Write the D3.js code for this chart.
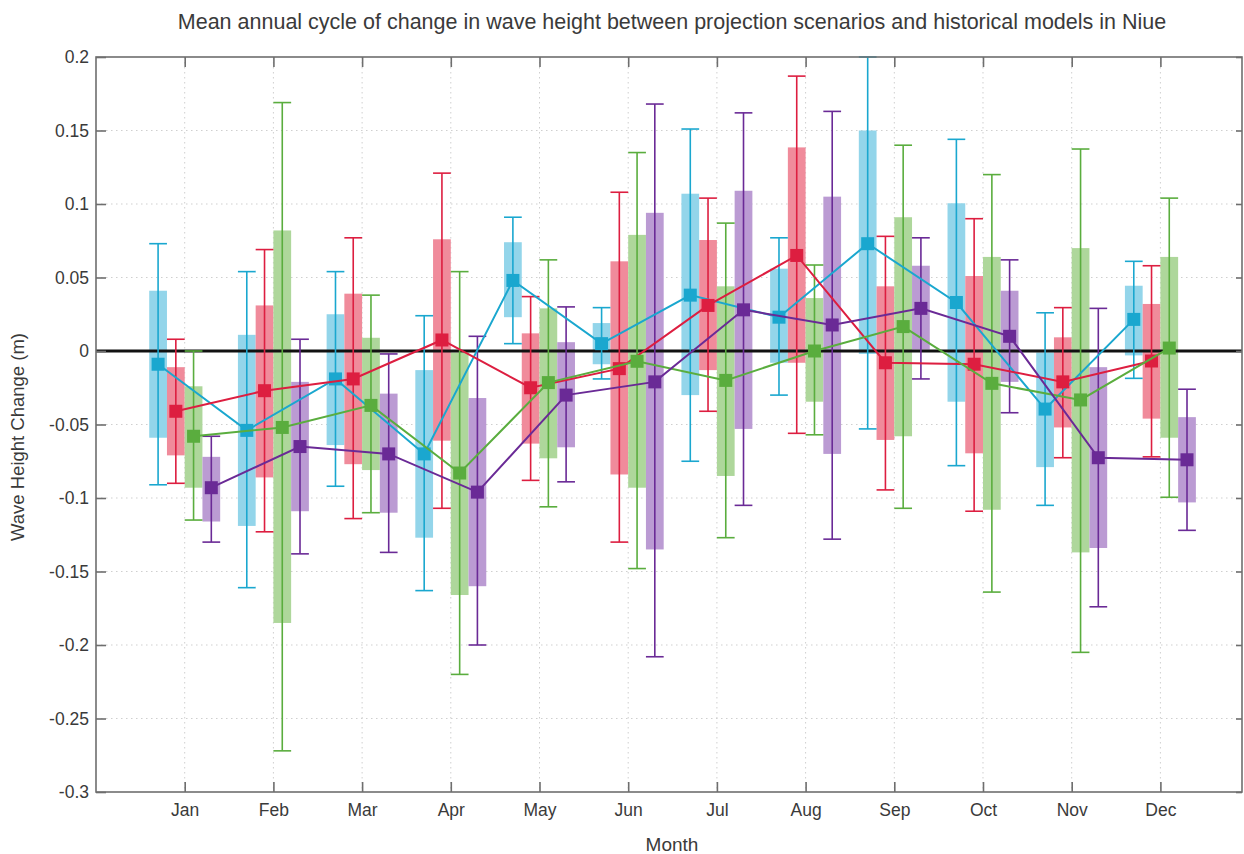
<!DOCTYPE html>
<html lang="en">
<head>
  <meta charset="UTF-8">
  <script src="https://d3js.org/d3.v7.min.js"></script>
  <title>Mean annual cycle of change in wave height - Niue</title>
  <style>
    body { margin: 0; background: #fff; font-family: 'Liberation Sans', Arial, sans-serif; }
    svg text { fill: #3a3a3a; }
  </style>
</head>
<body>
<svg id="chart" width="1244" height="854"></svg>
<script>
  // months on the x axis
  const months = ["Jan", "Feb", "Mar", "Apr", "May", "Jun", "Jul", "Aug", "Sep", "Oct", "Nov", "Dec"];
  const yTicks = [-0.3, -0.25, -0.2, -0.15, -0.1, -0.05, 0, 0.05, 0.1, 0.15, 0.2];

  // cyan scenario
  const cyanMean  = [-0.009, -0.054, -0.019, -0.070, 0.048, 0.005, 0.038, 0.023, 0.073, 0.033, -0.0395, 0.0215];
  const cyanBoxHi = [0.041, 0.011, 0.025, -0.013, 0.074, 0.019, 0.107, 0.056, 0.150, 0.1005, -0.001, 0.0444];
  const cyanBoxLo = [-0.059, -0.119, -0.064, -0.127, 0.023, -0.009, -0.030, -0.008, -0.002, -0.0345, -0.079, -0.003];
  const cyanHi    = [0.073, 0.054, 0.054, 0.024, 0.091, 0.0295, 0.151, 0.077, 0.200, 0.144, 0.026, 0.061];
  const cyanLo    = [-0.091, -0.161, -0.092, -0.163, 0.005, -0.019, -0.075, -0.030, -0.053, -0.078, -0.105, -0.0186];

  // red scenario
  const redMean  = [-0.041, -0.027, -0.019, 0.0075, -0.025, -0.012, 0.031, 0.065, -0.008, -0.009, -0.021, -0.0068];
  const redBoxHi = [-0.011, 0.031, 0.039, 0.076, 0.012, 0.061, 0.0755, 0.1385, 0.044, 0.051, 0.0093, 0.032];
  const redBoxLo = [-0.071, -0.086, -0.077, -0.061, -0.063, -0.084, -0.013, -0.008, -0.0605, -0.0696, -0.052, -0.046];
  const redHi    = [0.008, 0.069, 0.077, 0.121, 0.037, 0.108, 0.104, 0.187, 0.078, 0.090, 0.0295, 0.058];
  const redLo    = [-0.090, -0.123, -0.114, -0.107, -0.088, -0.130, -0.041, -0.056, -0.0945, -0.109, -0.0726, -0.072];

  // green scenario
  const greenMean  = [-0.058, -0.052, -0.037, -0.083, -0.0215, -0.007, -0.020, 0.000, 0.0166, -0.022, -0.0333, 0.002];
  const greenBoxHi = [-0.024, 0.082, 0.009, -0.001, 0.029, 0.079, 0.044, 0.036, 0.091, 0.064, 0.070, 0.064];
  const greenBoxLo = [-0.093, -0.185, -0.081, -0.166, -0.073, -0.093, -0.085, -0.0345, -0.058, -0.108, -0.137, -0.059];
  const greenHi    = [0.000, 0.169, 0.038, 0.054, 0.062, 0.135, 0.087, 0.0585, 0.140, 0.120, 0.1374, 0.104];
  const greenLo    = [-0.115, -0.272, -0.110, -0.220, -0.106, -0.148, -0.127, -0.057, -0.107, -0.164, -0.205, -0.0995];

  // purple scenario
  const purpleMean  = [-0.093, -0.065, -0.070, -0.096, -0.030, -0.021, 0.028, 0.0177, 0.029, 0.010, -0.0726, -0.074];
  const purpleBoxHi = [-0.072, -0.021, -0.029, -0.032, 0.006, 0.094, 0.109, 0.105, 0.058, 0.041, -0.011, -0.045];
  const purpleBoxLo = [-0.116, -0.109, -0.110, -0.160, -0.0655, -0.135, -0.053, -0.070, 0.001, -0.021, -0.134, -0.103];
  const purpleHi    = [-0.058, 0.008, -0.002, 0.010, 0.030, 0.168, 0.162, 0.163, 0.077, 0.062, 0.029, -0.026];
  const purpleLo    = [-0.130, -0.138, -0.137, -0.200, -0.089, -0.208, -0.105, -0.128, -0.019, -0.042, -0.174, -0.122];

  const series = [
    { mean: cyanMean, boxHi: cyanBoxHi, boxLo: cyanBoxLo, hi: cyanHi, lo: cyanLo, line: "#1aa7cf", box: "#93d5ea", offset: -0.3 },
    { mean: redMean, boxHi: redBoxHi, boxLo: redBoxLo, hi: redHi, lo: redLo, line: "#dd1e40", box: "#f08b9b", offset: -0.1 },
    { mean: greenMean, boxHi: greenBoxHi, boxLo: greenBoxLo, hi: greenHi, lo: greenLo, line: "#5aad3e", box: "#aed79b", offset: 0.1 },
    { mean: purpleMean, boxHi: purpleBoxHi, boxLo: purpleBoxLo, hi: purpleHi, lo: purpleLo, line: "#6a2a96", box: "#bb9bd3", offset: 0.3 }
  ];

  const svg = d3.select("#chart");
  const mLeft = 96, mRight = 1242, mTop = 57, mBottom = 792;

  const x = d3.scaleLinear().domain([0, 12.92]).range([mLeft, mRight]);
  const y = d3.scaleLinear().domain([-0.3, 0.2]).range([mBottom, mTop]);
  const boxW = x(0.2) - x(0);

  // grid
  const grid = svg.append("g");
  grid.selectAll("line.gx").data(months).enter().append("line")
    .attr("x1", (d, i) => x(i + 1)).attr("x2", (d, i) => x(i + 1))
    .attr("y1", mTop).attr("y2", mBottom)
    .attr("stroke", "#cfcfcf").attr("stroke-width", 1).attr("stroke-dasharray", "1.5,3.5");
  grid.selectAll("line.gy").data(yTicks.slice(1, -1)).enter().append("line")
    .attr("x1", mLeft).attr("x2", mRight)
    .attr("y1", d => y(d)).attr("y2", d => y(d))
    .attr("stroke", "#cfcfcf").attr("stroke-width", 1).attr("stroke-dasharray", "1.5,3.5");

  // boxes
  series.forEach(s => {
    svg.append("g").selectAll("rect").data(months).enter().append("rect")
      .attr("x", (d, i) => x(i + 1 + s.offset) - boxW / 2)
      .attr("width", boxW)
      .attr("y", (d, i) => y(s.boxHi[i]))
      .attr("height", (d, i) => y(s.boxLo[i]) - y(s.boxHi[i]))
      .attr("fill", s.box);
  });

  // zero line
  svg.append("line")
    .attr("x1", mLeft).attr("x2", mRight).attr("y1", y(0)).attr("y2", y(0))
    .attr("stroke", "#111").attr("stroke-width", 3);

  // whiskers
  series.forEach(s => {
    const g = svg.append("g").attr("stroke", s.line).attr("stroke-width", 1.6);
    months.forEach((m, i) => {
      const cx = x(i + 1 + s.offset);
      g.append("line").attr("x1", cx).attr("x2", cx).attr("y1", y(s.hi[i])).attr("y2", y(s.lo[i]));
      g.append("line").attr("x1", cx - boxW / 2).attr("x2", cx + boxW / 2).attr("y1", y(s.hi[i])).attr("y2", y(s.hi[i]));
      g.append("line").attr("x1", cx - boxW / 2).attr("x2", cx + boxW / 2).attr("y1", y(s.lo[i])).attr("y2", y(s.lo[i]));
    });
  });

  // mean lines + markers
  series.forEach(s => {
    const line = d3.line().x((d, i) => x(i + 1 + s.offset)).y(d => y(d));
    svg.append("path").datum(s.mean).attr("d", line)
      .attr("fill", "none").attr("stroke", s.line).attr("stroke-width", 2);
    svg.append("g").selectAll("rect").data(s.mean).enter().append("rect")
      .attr("x", (d, i) => x(i + 1 + s.offset) - 6.5)
      .attr("y", d => y(d) - 6.5)
      .attr("width", 13).attr("height", 13)
      .attr("fill", s.line);
  });

  // axes frame
  const axisColor = "#6e6e6e";
  const frame = svg.append("g").attr("stroke", axisColor).attr("stroke-width", 1.6).attr("fill", "none");
  frame.append("rect").attr("x", mLeft).attr("y", mTop).attr("width", mRight - mLeft).attr("height", mBottom - mTop);

  const xAxis = svg.append("g").attr("transform", `translate(0,${mBottom})`)
    .call(d3.axisBottom(x).tickValues(d3.range(1, 13)).tickFormat(d => months[d - 1]).tickSizeInner(-10).tickSizeOuter(0).tickPadding(12));
  const xAxisTop = svg.append("g").attr("transform", `translate(0,${mTop})`)
    .call(d3.axisTop(x).tickValues(d3.range(1, 13)).tickFormat("").tickSizeInner(-10).tickSizeOuter(0));
  const yAxis = svg.append("g").attr("transform", `translate(${mLeft},0)`)
    .call(d3.axisLeft(y).tickValues(yTicks).tickFormat(d => d === 0 ? "0" : String(+d.toFixed(2))).tickSizeInner(-10).tickSizeOuter(0).tickPadding(7));
  const yAxisRight = svg.append("g").attr("transform", `translate(${mRight},0)`)
    .call(d3.axisRight(y).tickValues(yTicks).tickFormat("").tickSizeInner(-6).tickSizeOuter(0));

  [xAxis, xAxisTop, yAxis, yAxisRight].forEach(a => {
    a.select(".domain").remove();
    a.selectAll(".tick line").attr("stroke", axisColor).attr("stroke-width", 1.6);
    a.selectAll(".tick text").attr("font-family", "'Liberation Sans', Arial, sans-serif").attr("font-size", 17.5).attr("fill", "#3a3a3a");
  });

  // titles
  svg.append("text").attr("x", 672).attr("y", 29).attr("text-anchor", "middle")
    .attr("font-size", 21.5).text("Mean annual cycle of change in wave height between projection scenarios and historical models in Niue");
  svg.append("text").attr("x", 672).attr("y", 851).attr("text-anchor", "middle")
    .attr("font-size", 19).text("Month");
  svg.append("text").attr("transform", "translate(24,437) rotate(-90)").attr("text-anchor", "middle")
    .attr("font-size", 18.5).text("Wave Height Change (m)");
</script>
</body>
</html>
